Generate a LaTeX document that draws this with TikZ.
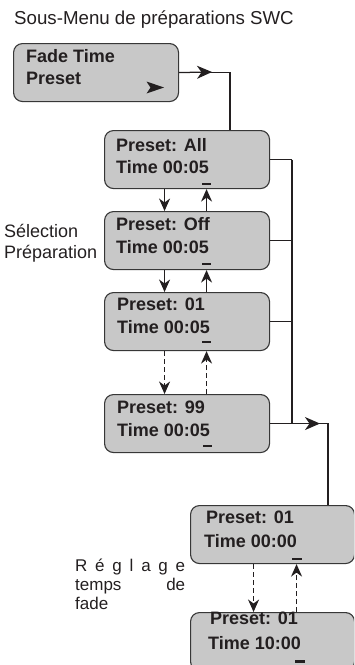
\documentclass[tikz,border=0pt]{standalone}
\usepackage{fontspec}
\setmainfont{Liberation Sans}
\usetikzlibrary{arrows.meta}
\definecolor{boxfill}{RGB}{200,200,200}
\definecolor{boxline}{RGB}{55,55,55}
\definecolor{ink}{RGB}{35,31,32}
\begin{document}
\begin{tikzpicture}[x=1pt,y=-1pt,
  menubox/.style={draw=boxline, fill=boxfill, line width=1.1pt, rounded corners=9pt,
    minimum width=165pt, minimum height=58pt, inner sep=0pt, anchor=north west},
  boxtxt/.style={anchor=base west, inner sep=0pt, text=ink, font=\fontsize{18}{20}\selectfont\bfseries},
  plain/.style={anchor=base west, inner sep=0pt, text=ink, font=\fontsize{18}{20}\selectfont},
  cursor/.style={fill=ink, inner sep=0pt, minimum width=9pt, minimum height=2.6pt},
  conn/.style={draw=ink, line width=1.25pt},
  bigtip/.style={-{Stealth[length=15pt,width=13pt,inset=4.5pt]}},
  vtip/.style={draw=ink, line width=1.25pt, -{Stealth[length=12.5pt,width=11pt,inset=4pt]}},
  dashline/.style={dash pattern=on 5pt off 3pt}
]
\useasboundingbox (0,0) rectangle (354,665);
\clip (0,0) rectangle (354,665);

% title
\node[plain, font=\fontsize{18.7}{21}\selectfont] (title) at (14,24.5) {Sous-Menu de préparations SWC};

% boxes
\node[menubox] (fade) at (13,43) {};
\node[menubox] (all) at (104,130) {};
\node[menubox] (off) at (104,211) {};
\node[menubox] (p01) at (104,292) {};
\node[menubox] (p99) at (104,394) {};
\node[menubox, minimum width=164pt] (b1) at (190,505) {};
\node[menubox, minimum width=164pt] (b2) at (190,612) {};

% box texts
\node[boxtxt] (fadet1) at (26,62.5) {Fade Time};
\node[boxtxt] (fadet2) at (26,84.5) {Preset};
\fill[ink] (164,87.5) -- (146.5,81.5) -- (150.5,87.5) -- (146.5,93.5) -- cycle;

\node[boxtxt] (allt1) at (116,151.5) {Preset: All};
\node[boxtxt] (allt2) at (116,173) {Time 00:05};
\node[cursor] (allc) at (206.5,184) {};

\node[boxtxt] (offt1) at (116,230) {Preset: Off};
\node[boxtxt] (offt2) at (116,253) {Time 00:05};
\node[cursor] (offc) at (206.5,264) {};

\node[boxtxt] (p01t1) at (117,310) {Preset: 01};
\node[boxtxt] (p01t2) at (117,333) {Time 00:05};
\node[cursor] (p01c) at (206.5,342) {};

\node[boxtxt] (p99t1) at (117,413) {Preset: 99};
\node[boxtxt] (p99t2) at (117,436) {Time 00:05};
\node[cursor] (p99c) at (207,446) {};

\node[boxtxt] (b1t1) at (206,523) {Preset: 01};
\node[boxtxt] (b1t2) at (204,547) {Time 00:00};
\node[cursor, minimum width=10pt] (b1c) at (297,559) {};

\node[boxtxt] (b2t1) at (210,624.5) {Preset: 01};
\node[boxtxt] (b2t2) at (208,649) {Time 10:00};
\node[cursor, minimum width=10pt] (b2c) at (300,661.5) {};

% side labels
\node[plain] (sel1) at (4,237) {Sélection};
\node[plain] (sel2) at (4,258) {Préparation};
\node[plain, font=\fontsize{17}{19}\selectfont] (reg1) at (75,571.5)
  {\makebox[110pt][s]{R\hfill é\hfill g\hfill l\hfill a\hfill g\hfill e}};
\node[plain, font=\fontsize{17}{19}\selectfont] (reg2) at (75,590.5)
  {\makebox[110pt][s]{temps\hfill de}};
\node[plain, font=\fontsize{17}{19}\selectfont] (reg3) at (75,609) {fade};

% connectors
\coordinate (x1) at (230,0);
\coordinate (x2) at (292,0);
\coordinate (x3) at (328,0);
\coordinate (tip1) at (212,72);
\coordinate (tip3) at (320,0);

\draw[conn] (fade.east) -- (fade.east -| x1) -- (x1 |- all.north);
\draw[conn, bigtip] (fade.east) -- (tip1);

\draw[conn] (all.east) -- (all.east -| x2);
\draw[conn] (off.east) -- (off.east -| x2);
\draw[conn] (p01.east) -- (p01.east -| x2);
\draw[conn] (all.east -| x2) -- (p99.east -| x2);
\draw[conn] (p99.east) -- (p99.east -| x3) -- (x3 |- b1.north);
\draw[conn, bigtip] (p99.east) -- (p99.east -| tip3);

% vertical arrows
\draw[vtip] ([xshift=-22.5pt]all.south) -- ([xshift=-22.5pt]off.north);
\draw[vtip] ([xshift=19.5pt]off.north) -- ([xshift=19.5pt]all.south);
\draw[vtip] ([xshift=-22.5pt]off.south) -- ([xshift=-22.5pt]p01.north);
\draw[vtip] ([xshift=19.5pt]p01.north) -- ([xshift=19.5pt]off.south);
\draw[vtip, dashline] ([xshift=-22.5pt]p01.south) -- ([xshift=-22.5pt]p99.north);
\draw[vtip, dashline] ([xshift=19.5pt]p99.north) -- ([xshift=19.5pt]p01.south);
\draw[vtip, dashline] ([xshift=-19pt]b1.south) -- ([xshift=-19pt]b2.north);
\draw[vtip, dashline] ([xshift=24pt]b2.north) -- ([xshift=24pt]b1.south);
\end{tikzpicture}
\end{document}
